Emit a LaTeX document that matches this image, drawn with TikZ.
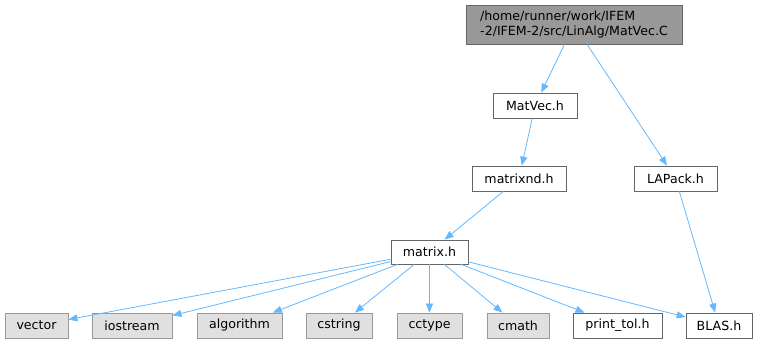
\documentclass[tikz,border=0pt]{standalone}
\usepackage{fontspec}
\setmainfont{DejaVu Sans}
\usetikzlibrary{arrows.meta}
\definecolor{edgeblue}{HTML}{63B8FF}
\definecolor{boxline}{HTML}{666666}
\definecolor{sysline}{HTML}{999999}
\definecolor{sysfill}{HTML}{E0E0E0}

\begin{document}
\begin{tikzpicture}[x=1pt,y=-1pt,
  hdr/.style={draw=boxline, fill=white, line width=0.8pt, inner sep=0pt, minimum height=25pt, font=\fontsize{12.6}{15}\selectfont},
  sys/.style={hdr, draw=sysline, fill=sysfill},
  edge/.style={draw=edgeblue, line width=0.8pt, -{Triangle[length=9pt,width=7pt,fill=edgeblue]}}]
\useasboundingbox (0,0) rectangle (760,344);
\node[hdr, fill=sysline, minimum width=216pt, minimum height=39pt, align=left] (src) at (574,24.5)
  {/home/runner/work/IFEM\\-2/IFEM-2/src/LinAlg/MatVec.C};
\node[hdr, minimum width=84pt] (matvec) at (535,105.5) {MatVec.h};
\node[hdr, minimum width=94pt] (matrixnd) at (519,178.5) {matrixnd.h};
\node[hdr, minimum width=83pt] (lapack) at (675.5,178.5) {LAPack.h};
\node[hdr, minimum width=77pt, minimum height=24pt] (matrix) at (429.5,252) {matrix.h};
\foreach \n/\x/\w/\l in {vector/36.5/63/vector, iostream/132/80/iostream, algorithm/239.5/85/algorithm,
    cstring/339/66/cstring, cctype/429.5/65/cctype, cmath/518/62/cmath}
  \node[sys, minimum width=\w pt] (\n) at (\x,325.5) {\l};
\node[hdr, minimum width=89pt] (printtol) at (617.5,325.5) {print\_tol.h};
\node[hdr, minimum width=66pt] (blas) at (719,325.5) {BLAS.h};
\draw[edge] (src) -- (matvec);
\draw[edge] (src) -- (lapack);
\draw[edge] (matvec) -- (matrixnd);
\draw[edge] (matrixnd) -- (matrix);
\draw[edge] (lapack) -- (blas);
\foreach \n in {vector,iostream,algorithm,cstring,cctype,cmath,printtol,blas}
  \draw[edge] (matrix) -- (\n);
\end{tikzpicture}
\end{document}
